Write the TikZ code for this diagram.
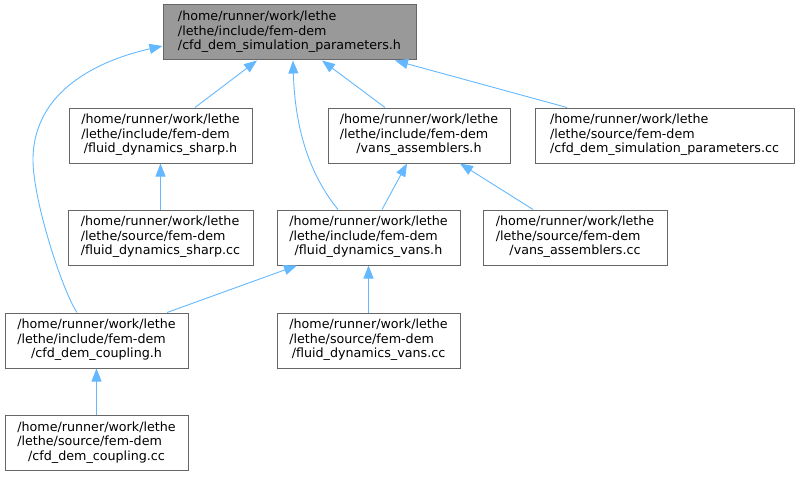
\documentclass[tikz,border=0pt]{standalone}
\usepackage{fontspec}
\setmainfont{DejaVu Sans}
\usepackage{xcolor}
\usepackage{tikz}
\usetikzlibrary{arrows.meta}

\definecolor{edgeblue}{HTML}{63B8FF}
\definecolor{boxline}{HTML}{666666}
\definecolor{boxfill}{HTML}{999999}

\newcommand{\flab}[3]{\begin{tabular}{@{}l@{}}#1\\#2\\\multicolumn{1}{@{}c@{}}{#3}\end{tabular}}

\begin{document}
\begin{tikzpicture}[x=1pt,y=-1pt]
  \tikzstyle{file}=[draw=boxline,line width=1pt,fill=white,minimum height=55pt,inner sep=0pt,
    font=\fontsize{12.7}{14.5}\selectfont]
  \tikzstyle{dep}=[draw=edgeblue,line width=0.9pt,-{Triangle[length=13pt,width=10pt]}]
  \useasboundingbox (0,0) rectangle (799,476);
  % top: the header itself
  \node[file,fill=boxfill,minimum width=253pt] (par) at (289.5,32.5)
    {\flab{/home/runner/work/lethe}{/lethe/include/fem-dem}{/cfd\_dem\_simulation\_parameters.h}};
  % second row
  \node[file,minimum width=183pt] (sharp) at (160.5,135.5)
    {\flab{/home/runner/work/lethe}{/lethe/include/fem-dem}{/fluid\_dynamics\_sharp.h}};
  \node[file,minimum width=182pt] (asm) at (419,135.5)
    {\flab{/home/runner/work/lethe}{/lethe/include/fem-dem}{/vans\_assemblers.h}};
  \node[file,minimum width=259pt] (parcc) at (664.5,135.5)
    {\flab{/home/runner/work/lethe}{/lethe/source/fem-dem}{/cfd\_dem\_simulation\_parameters.cc}};
  % third row
  \node[file,minimum width=185pt] (sharpcc) at (160.5,237.5)
    {\flab{/home/runner/work/lethe}{/lethe/source/fem-dem}{/fluid\_dynamics\_sharp.cc}};
  \node[file,minimum width=183pt] (vans) at (368.5,237.5)
    {\flab{/home/runner/work/lethe}{/lethe/include/fem-dem}{/fluid\_dynamics\_vans.h}};
  \node[file,minimum width=184pt] (asmcc) at (575,237.5)
    {\flab{/home/runner/work/lethe}{/lethe/source/fem-dem}{/vans\_assemblers.cc}};
  % fourth and fifth rows
  \node[file,minimum width=183pt] (coup) at (96.5,340.5)
    {\flab{/home/runner/work/lethe}{/lethe/include/fem-dem}{/cfd\_dem\_coupling.h}};
  \node[file,minimum width=183pt] (vanscc) at (368.5,340.5)
    {\flab{/home/runner/work/lethe}{/lethe/source/fem-dem}{/fluid\_dynamics\_vans.cc}};
  \node[file,minimum width=183pt] (coupcc) at (96.5,443)
    {\flab{/home/runner/work/lethe}{/lethe/source/fem-dem}{/cfd\_dem\_coupling.cc}};
  % include edges
  \draw[dep] ([xshift=34.5pt]sharp.north) -- ([xshift=-32.5pt]par.south);
  \draw[dep] ([xshift=-34pt]asm.north) -- ([xshift=32.5pt]par.south);
  \draw[dep] ([xshift=-97.5pt]parcc.north) -- ([xshift=105.5pt]par.south);
  \draw[dep] ([xshift=-30.5pt]vans.north) .. controls (310,175) and (295,130) .. ([xshift=3.5pt]par.south);
  \draw[dep] ([xshift=-19.5pt]coup.north) .. controls (62,290) and (33,200) .. (33,160)
    .. controls (33,90) and (100,60) .. ([yshift=-13.5pt]par.west);
  \draw[dep] ([xshift=13.5pt]vans.north) -- ([xshift=-12pt]asm.south);
  \draw[dep] ([xshift=-42pt]asmcc.north) -- ([xshift=41pt]asm.south);
  \draw[dep] ([xshift=70.5pt]coup.north) -- ([xshift=-71.5pt]vans.south);
  \foreach \c/\p in {sharpcc/sharp,vanscc/vans,coupcc/coup}
    \draw[dep] (\c) -- (\p);
\end{tikzpicture}
\end{document}
